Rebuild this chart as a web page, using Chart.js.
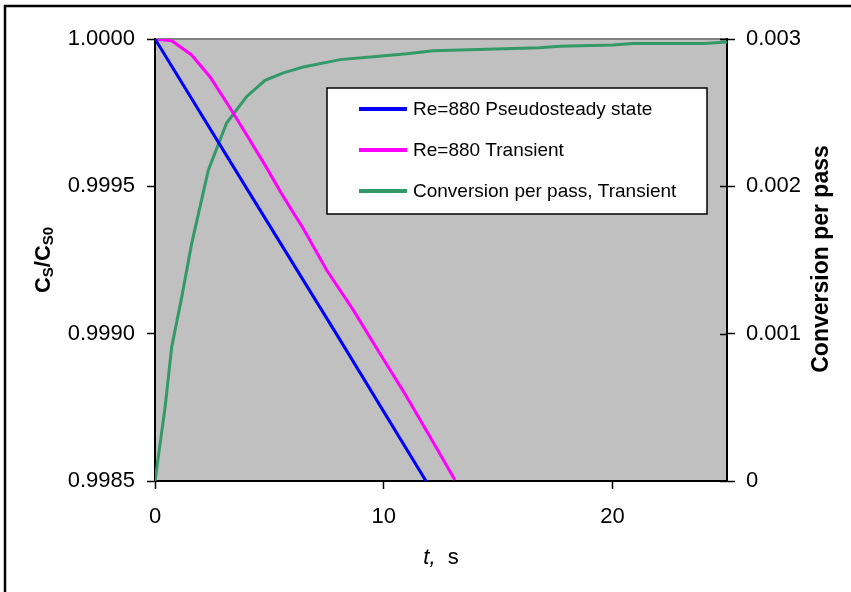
<!DOCTYPE html>
<html>
<head>
<meta charset="utf-8">
<script src="https://cdn.jsdelivr.net/npm/chart.js@4.4.0/dist/chart.umd.min.js"></script>
<style>
html, body { margin: 0; padding: 0; background: #fff; }
#wrap { width: 851px; height: 592px; }
</style>
</head>
<body>
<div id="wrap"><canvas id="chart" width="851" height="592"></canvas></div>
<script>
// values
var pseudoT   = [0, 4, 8, 12];
var pseudoCs  = [1.0000, 0.999494, 0.998990, 0.998480];

var transT    = [0, 0.73, 1.60, 2.40, 3.20, 4.01, 4.81, 5.61, 6.48, 7.50, 8.67, 9.83, 11.0, 12.02, 13.11];
var transCs   = [1.0000, 0.999994, 0.999946, 0.999872, 0.999776, 0.999674, 0.999572, 0.999465,
                 0.999357, 0.999216, 0.999080, 0.998933, 0.998786, 0.998650, 0.998503];

var convT     = [0, 0.44, 0.73, 1.17, 1.60, 2.33, 3.13, 4.01, 4.81, 5.61, 6.48, 8.09, 9.54,
                 11.0, 12.16, 14.5, 16.8, 17.7, 20.0, 20.9, 24.0, 25.0];
var convVal   = [0, 0.00050, 0.00091, 0.00125, 0.00161, 0.00211, 0.00243, 0.00261, 0.00272,
                 0.00277, 0.00281, 0.00286, 0.00288, 0.00290, 0.00292, 0.00293, 0.00294,
                 0.00295, 0.00296, 0.00297, 0.00297, 0.00298];

var seriesNames = ['Re=880 Pseudosteady state', 'Re=880 Transient', 'Conversion per pass, Transient'];

var xTicks = [0, 10, 20];
var xTickLabels = ['0', '10', '20'];
var leftTicks = [0.9985, 0.9990, 0.9995, 1.0000];
var leftTickLabels = ['0.9985', '0.9990', '0.9995', '1.0000'];
var rightTicks = [0, 0.001, 0.002, 0.003];
var rightTickLabels = ['0', '0.001', '0.002', '0.003'];

var FONT = "'Liberation Sans', Arial, sans-serif";

function pts(xs, ys) {
    var out = [];
    for (let i = 0; i < xs.length; i++) out.push({x: xs[i], y: ys[i]});
    return out;
}

var framePlugin = {
    id: 'frame',
    beforeDraw: function(chart) {
        var ctx = chart.ctx, a = chart.chartArea;
        ctx.save();
        ctx.fillStyle = '#fff';
        ctx.fillRect(0, 0, chart.width, chart.height);
        ctx.strokeStyle = '#000';
        ctx.lineWidth = 2.5;
        ctx.beginPath();
        ctx.moveTo(5, chart.height);
        ctx.lineTo(5, 6);
        ctx.lineTo(chart.width, 6);
        ctx.stroke();
        ctx.fillStyle = '#c0c0c0';
        ctx.fillRect(a.left, a.top, a.right - a.left, a.bottom - a.top);
        ctx.strokeStyle = '#808080';
        ctx.lineWidth = 2;
        ctx.beginPath();
        ctx.moveTo(a.left, a.top);
        ctx.lineTo(a.right, a.top);
        ctx.stroke();
        ctx.restore();
    },
    afterDatasetsDraw: function(chart) {
        // legend box inside the plot
        var ctx = chart.ctx;
        ctx.save();
        ctx.fillStyle = '#fff';
        ctx.fillRect(327, 88, 380, 126);
        ctx.strokeStyle = '#000';
        ctx.lineWidth = 1.5;
        ctx.strokeRect(327, 88, 380, 126);
        ctx.font = '19px ' + FONT;
        ctx.textBaseline = 'middle';
        ctx.fillStyle = '#000';
        var ys = [109, 150, 191];
        chart.data.datasets.forEach(function(ds, i) {
            ctx.strokeStyle = ds.borderColor;
            ctx.lineWidth = 4;
            ctx.beginPath();
            ctx.moveTo(359, ys[i]);
            ctx.lineTo(407, ys[i]);
            ctx.stroke();
            ctx.fillText(ds.label, 413, ys[i] + 1);
        });
        ctx.restore();
    },
    afterDraw: function(chart) {
        var ctx = chart.ctx, a = chart.chartArea;
        ctx.save();
        // crossing ticks on the right axis
        ctx.strokeStyle = '#000';
        ctx.lineWidth = 1.5;
        var y2 = chart.scales.y2;
        rightTicks.forEach(function(v) {
            var py = Math.round(y2.getPixelForValue(v)) + 0.5;
            ctx.beginPath();
            ctx.moveTo(a.right - 7, py);
            ctx.lineTo(a.right, py);
            ctx.stroke();
        });
        ctx.fillStyle = '#000';
        ctx.textBaseline = 'alphabetic';

        // left title Cs/Cs0 with subscripts
        var parts = [['C', 22, 0], ['S', 15, 3], ['/', 22, 0], ['C', 22, 0], ['S0', 15, 3]];
        var total = 0;
        parts.forEach(function(p) {
            ctx.font = 'bold ' + p[1] + 'px ' + FONT;
            total += ctx.measureText(p[0]).width;
        });
        ctx.save();
        ctx.translate(50, 260);
        ctx.rotate(-Math.PI / 2);
        var cx = -total / 2;
        parts.forEach(function(p) {
            ctx.font = 'bold ' + p[1] + 'px ' + FONT;
            ctx.fillText(p[0], cx, p[2]);
            cx += ctx.measureText(p[0]).width;
        });
        ctx.restore();

        // right title
        ctx.save();
        ctx.translate(828, 259);
        ctx.rotate(-Math.PI / 2);
        ctx.textAlign = 'center';
        ctx.font = 'bold 23px ' + FONT;
        ctx.fillText('Conversion per pass', 0, 0);
        ctx.restore();

        // bottom title  t, s
        ctx.font = 'italic 22px ' + FONT;
        var w1 = ctx.measureText('t,').width;
        ctx.font = '22px ' + FONT;
        var w2 = ctx.measureText('  s').width;
        var sx = (a.left + a.right) / 2 - (w1 + w2) / 2;
        ctx.font = 'italic 22px ' + FONT;
        ctx.fillText('t,', sx, 564);
        ctx.font = '22px ' + FONT;
        ctx.fillText('  s', sx + w1, 564);
        ctx.restore();
    }
};

const data = {
    datasets: [{
        label: seriesNames[0],
        data: pts(pseudoT, pseudoCs),
        borderColor: '#0000ff',
        yAxisID: 'y'
    }, {
        label: seriesNames[1],
        data: pts(transT, transCs),
        borderColor: '#ff00ff',
        yAxisID: 'y'
    }, {
        label: seriesNames[2],
        data: pts(convT, convVal),
        borderColor: '#339966',
        yAxisID: 'y2'
    }]
};

function tickFont() { return {family: FONT, size: 22}; }

const config = {
    type: 'line',
    data: data,
    options: {
        responsive: false,
        animation: false,
        layout: {padding: {top: 39, left: 0, right: 0, bottom: 0}},
        elements: {
            point: {radius: 0},
            line: {borderWidth: 3, tension: 0, fill: false}
        },
        plugins: {
            legend: {display: false},
            tooltip: {enabled: false}
        },
        scales: {
            x: {
                type: 'linear',
                min: 0,
                max: 25,
                afterBuildTicks: function(s) { s.ticks = xTicks.map(v => ({value: v})); },
                afterFit: function(s) { s.height = 111; },
                ticks: {
                    font: tickFont(), color: '#000', padding: 15, maxRotation: 0, autoSkip: false,
                    callback: function(v) { return xTickLabels[xTicks.indexOf(v)]; }
                },
                grid: {drawOnChartArea: false, tickLength: 8, tickColor: '#000', tickWidth: 1.5},
                border: {color: '#000', width: 2}
            },
            y: {
                position: 'left',
                min: 0.9985,
                max: 1.0,
                afterBuildTicks: function(s) { s.ticks = leftTicks.map(v => ({value: v})); },
                afterFit: function(s) { s.width = 155; },
                ticks: {
                    font: tickFont(), color: '#000', padding: 12, autoSkip: false,
                    callback: function(v) { return leftTickLabels[leftTicks.indexOf(v)]; }
                },
                grid: {drawOnChartArea: false, tickLength: 8, tickColor: '#000', tickWidth: 1.5},
                border: {color: '#000', width: 2}
            },
            y2: {
                position: 'right',
                min: 0,
                max: 0.003,
                afterBuildTicks: function(s) { s.ticks = rightTicks.map(v => ({value: v})); },
                afterFit: function(s) { s.width = 124; },
                ticks: {
                    font: tickFont(), color: '#000', padding: 11, autoSkip: false,
                    callback: function(v) { return rightTickLabels[rightTicks.indexOf(v)]; }
                },
                grid: {drawOnChartArea: false, tickLength: 8, tickColor: '#000', tickWidth: 1.5},
                border: {color: '#000', width: 2}
            }
        }
    },
    plugins: [framePlugin]
};

const myChart = new Chart(document.getElementById('chart'), config);
</script>
</body>
</html>
